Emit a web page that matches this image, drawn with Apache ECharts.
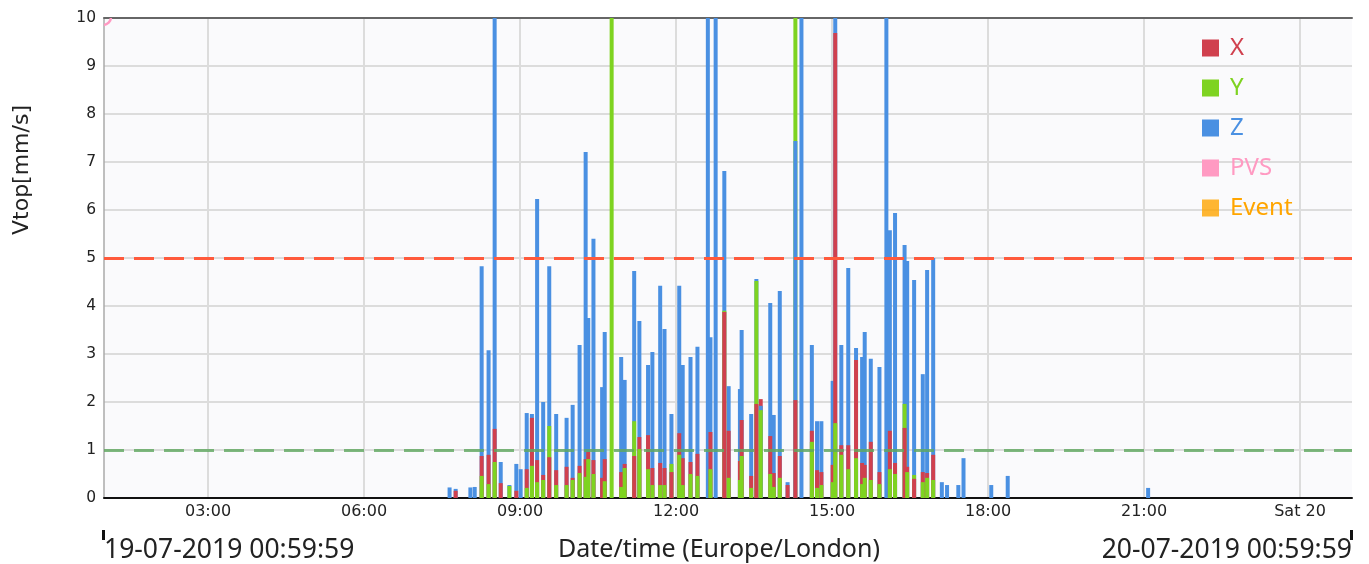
<!DOCTYPE html>
<html><head><meta charset="utf-8">
<script src="https://cdn.jsdelivr.net/npm/echarts@6/dist/echarts.min.js"></script>
<style>html,body{margin:0;padding:0;background:#fff}#c{width:1369px;height:564px}</style>
</head><body><div id="c"></div>
<script>
// ---- data ----
const times = ["07:37","07:44","08:01","08:06","08:14","08:22","08:29","08:36","08:46","08:54","08:59","09:06","09:12","09:18","09:25","09:32","09:40","09:52","09:59","10:07","10:14","10:17","10:23","10:33","10:36","10:44","10:55","10:59","11:10","11:16","11:26","11:31","11:40","11:45","11:53","12:02","12:06","12:15","12:23","12:35","12:38","12:44","12:54","12:59","13:12","13:14","13:25","13:31","13:36","13:47","13:51","13:58","14:07","14:16","14:23","14:35","14:41","14:46","14:59","15:02","15:09","15:17","15:26","15:33","15:36","15:43","15:53","16:01","16:05","16:11","16:22","16:25","16:33","16:43","16:48","16:55","17:05","17:11","17:24","17:30","18:02","18:21","21:03"];
const X = [0,0.15,0,0,0.875,0.9,1.44,0.31,0,0.15,0,0.6,1.67,0.79,0.48,0.85,0.58,0.65,0.42,0.67,0.81,0.96,0.79,0.42,0.81,0,0.54,0.71,0.875,1.27,1.31,0.625,0.73,0.625,0.54,1.35,0.83,0.75,0.92,0,1.375,0,3.875,1.4,0.77,1.625,0.46,1.96,2.06,1.29,0.52,0.875,0.27,2.04,0,1.4,0.58,0.54,0.69,9.69,1.1,1.1,2.875,0.73,0.69,1.17,0.54,0,1.4,0.73,1.46,0.65,0.4,0.54,0.52,0.9,0,0,0,0,0,0,0];
const Y = [0,0,0,0,0.46,0.29,0.75,0,0.25,0,0,0.21,0.67,0.33,0.375,1.5,0.27,0.27,0.375,0.52,0.44,0.81,0.5,0,0.35,10.5,0.23,0.625,1.6,1.02,0.6,0.27,0.27,0.27,0.71,0.9,0.27,0.5,0.46,0,0.6,0,3.9,0.42,0.375,0.875,0.21,4.52,1.83,0.5,0.23,0.42,0,10.5,0,1.17,0.21,0.27,0.33,1.56,0.9,0.6,0.83,0.29,0.42,0.375,0.29,0,0.6,0.5,1.96,0.54,0.48,0.33,0.42,0.375,0,0,0,0,0,0,0];
const Z = [0.22,0.19,0.22,0.23,4.83,3.08,10.5,0.75,0.27,0.71,0.6,1.77,1.75,6.23,2.0,4.83,1.75,1.67,1.94,3.19,7.21,3.75,5.4,2.31,3.46,0,2.94,2.46,4.73,3.69,2.77,3.04,4.42,3.52,1.75,4.42,2.77,2.94,3.15,10.5,3.35,10.5,6.81,2.33,2.27,3.5,1.75,4.56,1.92,4.06,1.73,4.31,0.33,7.44,10.5,3.19,1.6,1.6,2.44,10.5,3.19,4.79,3.125,2.94,3.46,2.9,2.73,10.5,5.58,5.94,5.27,4.94,4.54,2.58,4.75,5.0,0.33,0.27,0.27,0.83,0.27,0.46,0.21];
const alarmLevel = 5;
const warnLevel = 1;
const pvsPoints = [["00:59:59", 10]];
const xTickHours = [3,6,9,12,15,18,21,24];
const xTickLabels = ["03:00","06:00","09:00","12:00","15:00","18:00","21:00","Sat 20"];
const seriesNames = ["X","Y","Z","PVS","Event"];
const seriesColors = ["#d0404e","#7ed321","#4a90e2","#ff9ac2","#ffa500"];
const startLabel = "19-07-2019 00:59:59";
const endLabel = "20-07-2019 00:59:59";
const axisTitle = "Date/time (Europe/London)";
const yTitle = "Vtop[mm/s]";

// ---- build (x in hours since 19-07-2019 00:00) ----
function toH(s){const p=s.split(':').map(Number);return p[0]+p[1]/60+(p[2]||0)/3600;}
const tMin = toH("00:59:59");
const tMax = tMin + 24;
const ranks=[[],[],[]];
times.forEach((t,i)=>{
  const comps=[{v:X[i],c:seriesColors[0]},{v:Y[i],c:seriesColors[1]},{v:Z[i],c:seriesColors[2]}];
  comps.sort((a,b)=>b.v-a.v);
  comps.forEach((o,r)=>{ranks[r].push({value:[toH(t),o.v],itemStyle:{color:o.c}});});
});
const FONT='Noto Sans';
const series=[];
['max','mid','min'].forEach((n,r)=>{
  series.push({name:'_'+n,type:'bar',barWidth:4,barGap:'-100%',data:ranks[r],silent:true,animation:false});
});
series.push({name:'X',type:'bar',data:[],itemStyle:{color:seriesColors[0]}});
series.push({name:'Y',type:'bar',data:[],itemStyle:{color:seriesColors[1]}});
series.push({name:'Z',type:'bar',data:[],itemStyle:{color:seriesColors[2]}});
series.push({name:'PVS',type:'custom',clip:true,silent:true,
  itemStyle:{color:seriesColors[3]},
  data:pvsPoints.map(p=>[toH(p[0]),p[1]]),
  renderItem:function(params,api){
    const c=api.coord([api.value(0),api.value(1)]);
    return {type:'circle',shape:{cx:c[0]-1,cy:c[1]-1,r:8},style:{fill:'none',stroke:seriesColors[3],lineWidth:2.5}};
  },
  markLine:{silent:true,symbol:'none',label:{show:false},animation:false,
    data:[{yAxis:alarmLevel,lineStyle:{color:'#ff5a3c',width:3,type:[20,10],opacity:1}},
          {yAxis:warnLevel,lineStyle:{color:'#5fa85f',width:3,type:[20,10],opacity:0.8}}]}});
series.push({name:'Event',type:'scatter',data:[],itemStyle:{color:seriesColors[4]}});

const chart=echarts.init(document.getElementById('c'),null,{renderer:'canvas'});
chart.setOption({
  animation:false,
  backgroundColor:'#fff',
  grid:{left:104,right:17,top:18,bottom:66,show:true,backgroundColor:'#fafafc',borderWidth:0},
  legend:{orient:'vertical',left:1202,top:36,padding:0,itemWidth:17,itemHeight:17,itemGap:16,icon:'rect',
    textStyle:{fontSize:24,fontFamily:'Noto Sans',padding:[0,0,0,6]},
    data:seriesNames.map((n,i)=>({name:n,icon:'rect',itemStyle:{color:seriesColors[i],borderWidth:0},textStyle:{color:seriesColors[i]}}))},
  xAxis:[{type:'value',min:tMin,max:tMax,
    axisLine:{onZero:false,lineStyle:{color:'#111',width:2}},
    axisTick:{show:false,customValues:xTickHours},
    splitLine:{show:true,lineStyle:{color:'#dcdcdc',width:2}},
    axisLabel:{fontSize:16,color:'#222',fontFamily:'DejaVu Sans',margin:6,customValues:xTickHours,
      formatter:function(v){const i=xTickHours.indexOf(Math.round(v));return i>=0?xTickLabels[i]:'';}}},
    {type:'value',position:'top',min:tMin,max:tMax,axisLine:{show:true,onZero:false,lineStyle:{color:'#666',width:2}},axisTick:{show:false},axisLabel:{show:false},splitLine:{show:false}}],
  yAxis:{type:'value',min:0,max:10,interval:1,
    axisLine:{show:true,lineStyle:{color:'#aaa',width:1.5}},axisTick:{show:false},
    splitLine:{lineStyle:{color:'#dcdcdc',width:2}},
    axisLabel:{fontSize:15.5,color:'#222',fontFamily:'DejaVu Sans',margin:8}},
  graphic:[
    {type:'text',x:22,y:170,rotation:Math.PI/2,style:{text:yTitle,fontSize:22,fontFamily:'DejaVu Sans',fill:'#222',align:'center',verticalAlign:'middle'}},
    {type:'rect',shape:{x:102,y:530,width:3,height:10},style:{fill:'#111'}},
    {type:'rect',shape:{x:1350,y:530,width:3,height:10},style:{fill:'#111'}},
    {type:'text',x:104,y:550,style:{text:startLabel,fontSize:26.5,fontFamily:FONT,fill:'#222',align:'left',verticalAlign:'middle'}},
    {type:'text',x:719,y:550,style:{text:axisTitle,fontSize:25,fontFamily:FONT,fill:'#222',align:'center',verticalAlign:'middle'}},
    {type:'text',x:1352,y:550,style:{text:endLabel,fontSize:26.5,fontFamily:FONT,fill:'#222',align:'right',verticalAlign:'middle'}}
  ],
  series:series
});
</script></body></html>
